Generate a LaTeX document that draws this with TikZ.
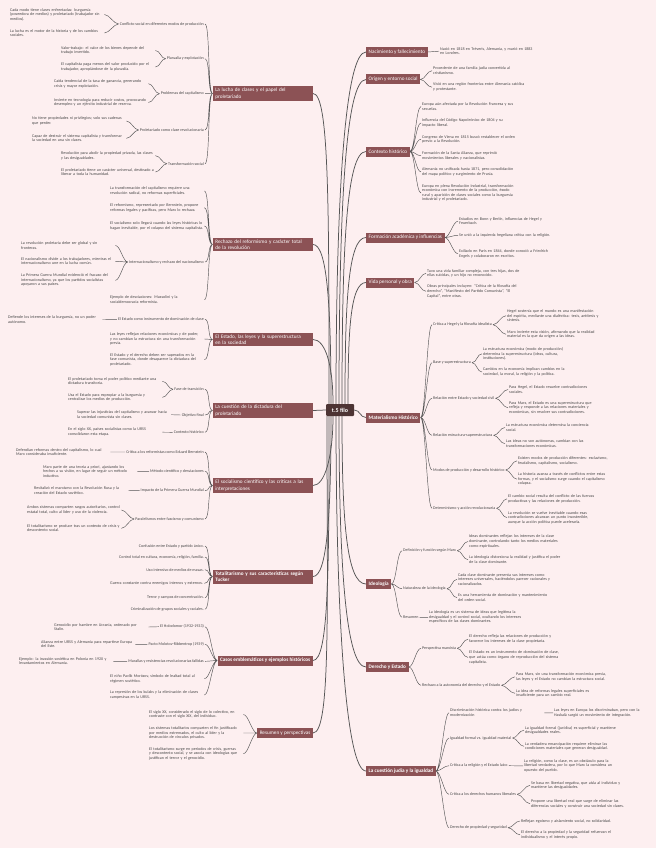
\documentclass[tikz,border=0pt]{standalone}
\usepackage{fontspec}
\setmainfont{Carlito}
\usepackage{tikz}

\definecolor{bgpink}{RGB}{253,239,240}
\definecolor{branchred}{RGB}{140,82,85}
\definecolor{rootbrown}{RGB}{77,52,52}
\definecolor{linegray}{RGB}{85,85,85}
\definecolor{textgray}{RGB}{70,70,70}

\hyphenpenalty=10000
\exhyphenpenalty=10000

\tikzset{
 mainbox/.style={fill=branchred, text=white, font=\fontsize{5.2}{6.3}\selectfont,
   inner xsep=2.5pt, inner ysep=2pt, minimum height=10pt, align=left},
 mainwide/.style={mainbox, text width=95pt},
 rootbox/.style={fill=rootbrown, text=white, font=\fontsize{6}{7}\selectfont\bfseries,
   minimum width=28pt, minimum height=12pt, rounded corners=1pt},
 item/.style={text=textgray, font=\fontsize{4.05}{4.6}\selectfont, inner sep=1pt},
 leaf/.style={item, text width=93pt, align=left},
 link/.style={draw=linegray, line width=0.45pt},
 trunk/.style={draw=linegray, line width=0.75pt},
 lhook/.style={to path={.. controls +(-5,0) and +(5,0) .. (\tikztotarget)}},
 rhook/.style={to path={.. controls +(5,0) and +(-5,0) .. (\tikztotarget)}},
}

\begin{document}
\begin{tikzpicture}[x=1pt,y=-1pt]
 \fill[bgpink] (0,0) rectangle (656,848);
 \useasboundingbox (0,0) rectangle (656,848);

 \node[rootbox] (root) at (340,410) {t.5 filo};

 % left branches
 \node[mainwide,anchor=east] (L1) at (313,93.5) {La lucha de clases y el papel del\\ proletariado};
 \node[mainwide,anchor=east] (L2) at (313,244.5) {Rechazo del reformismo y carácter total\\ de la revolución};
 \node[mainwide,anchor=east] (L3) at (313,339.5) {El Estado, las leyes y la superestructura\\ en la sociedad};
 \node[mainwide,anchor=east] (L4) at (313,410.5) {La cuestión de la dictadura del\\ proletariado};
 \node[mainwide,anchor=east] (L5) at (313,485.5) {El socialismo científico y las críticas a las\\ interpretaciones};
 \node[mainwide,anchor=east,font=\fontsize{5.2}{6.3}\selectfont\bfseries] (L6) at (313,576.5) {Totalitarismo y sus características según\\ Tucker};
 \node[mainbox,anchor=east,font=\fontsize{5.2}{6.3}\selectfont\bfseries] (L7) at (313,660.5) {Casos emblemáticos y ejemplos históricos};
 \node[mainbox,anchor=east] (L8) at (313,733) {Resumen y perspectivas};

 % right branches
 \node[mainbox,anchor=west] (R1) at (366,52) {Nacimiento y fallecimiento};
 \node[mainbox,anchor=west] (R2) at (366,79.5) {Origen y entorno social};
 \node[mainbox,anchor=west] (R3) at (366,151.5) {Contexto histórico};
 \node[mainbox,anchor=west] (R4) at (366,237.5) {Formación académica y influencias};
 \node[mainbox,anchor=west] (R5) at (366,282.5) {Vida personal y obra};
 \node[mainbox,anchor=west,font=\fontsize{5.2}{6.3}\selectfont\bfseries] (R6) at (366,417.5) {Materialismo Histórico};
 \node[mainbox,anchor=west,font=\fontsize{5.2}{6.3}\selectfont\bfseries] (R7) at (366,584) {Ideología};
 \node[mainbox,anchor=west,font=\fontsize{5.2}{6.3}\selectfont\bfseries] (R8) at (366,667) {Derecho y Estado};
 \node[mainbox,anchor=west,font=\fontsize{5.2}{6.3}\selectfont\bfseries] (R9) at (366,771) {La cuestión judía y la igualdad};

 % trunk
 \draw[trunk] (L1.east) .. controls +(16,0) and +(0,-200) .. ([xshift=-11pt]root.north);
 \draw[trunk] (L2.east) .. controls +(14,0) and +(0,-100) .. ([xshift=-9pt]root.north);
 \draw[trunk] (L3.east) .. controls +(12,0) and +(0,-40) .. ([xshift=-7pt]root.north);
 \draw[trunk] (L4.east) -- (root.west);
 \draw[trunk] (L5.east) .. controls +(12,0) and +(0,40) .. ([xshift=-7pt]root.south);
 \draw[trunk] (L6.east) .. controls +(14,0) and +(0,100) .. ([xshift=-9pt]root.south);
 \draw[trunk] (L7.east) .. controls +(16,0) and +(0,150) .. ([xshift=-11pt]root.south);
 \draw[trunk] (L8.east) .. controls +(18,0) and +(0,190) .. ([xshift=-13pt]root.south);
 \draw[trunk] ([xshift=-4pt]root.north) .. controls +(0,-220) and +(-20,0) .. (R1.west);
 \draw[trunk] ([xshift=-1pt]root.north) .. controls +(0,-200) and +(-20,0) .. (R2.west);
 \draw[trunk] ([xshift=2pt]root.north) .. controls +(0,-150) and +(-20,0) .. (R3.west);
 \draw[trunk] ([xshift=5pt]root.north) .. controls +(0,-100) and +(-18,0) .. (R4.west);
 \draw[trunk] ([xshift=8pt]root.north) .. controls +(0,-70) and +(-16,0) .. (R5.west);
 \draw[trunk] (root.east) .. controls +(6,0) and +(-6,0) .. (R6.west);
 \draw[trunk] ([xshift=2pt]root.south) .. controls +(0,100) and +(-20,0) .. (R7.west);
 \draw[trunk] ([xshift=-1pt]root.south) .. controls +(0,150) and +(-20,0) .. (R8.west);
 \draw[trunk] ([xshift=-4pt]root.south) .. controls +(0,200) and +(-20,0) .. (R9.west);

 % L1
 \node[item,anchor=east] (L1a) at (205,24) {Conflicto social en diferentes modos de producción};
 \node[leaf,anchor=west] (L1a1) at (9,14.5) {Cada modo tiene clases enfrentadas: burguesía (poseedora de medios) y proletariado (trabajador sin medios).};
 \node[leaf,anchor=west] (L1a2) at (9,33) {La lucha es el motor de la historia y de los cambios sociales.};
 \node[item,anchor=east] (L1b) at (205,58.7) {Plusvalía y explotación};
 \node[leaf,anchor=west] (L1b1) at (60,50.5) {Valor-trabajo: el valor de los bienes depende del trabajo invertido.};
 \node[leaf,anchor=west] (L1b2) at (60,67) {El capitalista paga menos del valor producido por el trabajador, apropiándose de la plusvalía.};
 \node[item,anchor=east] (L1c) at (205,93.7) {Problemas del capitalismo};
 \node[leaf,anchor=west] (L1c1) at (53,83.7) {Caída tendencial de la tasa de ganancia, generando crisis y mayor explotación.};
 \node[leaf,anchor=west] (L1c2) at (53,102.5) {Invierte en tecnología para reducir costos, provocando desempleo y un ejército industrial de reserva.};
 \node[item,anchor=east] (L1d) at (205,130) {Proletariado como clase revolucionaria};
 \node[leaf,anchor=west] (L1d1) at (31,121) {No tiene propiedades ni privilegios; solo sus cadenas que perder.};
 \node[leaf,anchor=west] (L1d2) at (31,138.3) {Capaz de destruir el sistema capitalista y transformar la sociedad en una sin clases.};
 \node[item,anchor=east] (L1e) at (205,163.7) {Transformación social};
 \node[leaf,anchor=west] (L1e1) at (60,155.7) {Revolución para abolir la propiedad privada, las clases y las desigualdades.};
 \node[leaf,anchor=west] (L1e2) at (60,172) {El proletariado tiene un carácter universal, destinado a liberar a toda la humanidad.};
 \draw[link] (L1.west) to[lhook] (L1a.east) (L1.west) to[lhook] (L1b.east) (L1.west) to[lhook] (L1c.east)
  (L1.west) to[lhook] (L1d.east) (L1.west) to[lhook] (L1e.east);
 \draw[link] (L1a.west) to[lhook] (L1a1.east) (L1a.west) to[lhook] (L1a2.east)
  (L1b.west) to[lhook] (L1b1.east) (L1b.west) to[lhook] (L1b2.east)
  (L1c.west) to[lhook] (L1c1.east) (L1c.west) to[lhook] (L1c2.east)
  (L1d.west) to[lhook] (L1d1.east) (L1d.west) to[lhook] (L1d2.east)
  (L1e.west) to[lhook] (L1e1.east) (L1e.west) to[lhook] (L1e2.east);

 % L2
 \node[leaf,anchor=west] (L2a) at (109,191) {La transformación del capitalismo requiere una revolución radical, no reformas superficiales.};
 \node[leaf,anchor=west] (L2b) at (109,207.7) {El reformismo, representado por Bernstein, propone reformas legales y pacíficas, pero Marx lo rechaza.};
 \node[leaf,anchor=west] (L2c) at (109,226) {El socialismo solo llegará cuando las leyes históricas lo hagan inevitable, por el colapso del sistema capitalista.};
 \node[item,anchor=east] (L2d) at (205,262) {Internacionalismo y rechazo del nacionalismo};
 \node[leaf,anchor=west] (L2d1) at (20,245.5) {La revolución proletaria debe ser global y sin fronteras.};
 \node[leaf,anchor=west] (L2d2) at (20,261.3) {El nacionalismo divide a los trabajadores, mientras el internacionalismo une en la lucha común.};
 \node[leaf,anchor=west] (L2d3) at (20,280.3) {La Primera Guerra Mundial evidenció el fracaso del internacionalismo, ya que los partidos socialistas apoyaron a sus países.};
 \node[leaf,anchor=west] (L2e) at (109,299.7) {Ejemplo de desviaciones: Mussolini y la socialdemocracia reformista.};
 \draw[link] (L2.west) to[lhook] (L2a.east) (L2.west) to[lhook] (L2b.east) (L2.west) to[lhook] (L2c.east)
  (L2.west) to[lhook] (L2d.east) (L2.west) to[lhook] (L2e.east);
 \draw[link] (L2d.west) to[lhook] (L2d1.east) (L2d.west) to[lhook] (L2d2.east) (L2d.west) to[lhook] (L2d3.east);

 % L3
 \node[item,anchor=east] (L3a) at (205,319.3) {El Estado como instrumento de dominación de clase};
 \node[leaf,anchor=west] (L3a1) at (7,319.5) {Defiende los intereses de la burguesía, no un poder autónomo.};
 \node[leaf,anchor=west] (L3b) at (109,339) {Las leyes reflejan relaciones económicas y de poder, y no cambian la estructura sin una transformación previa.};
 \node[leaf,anchor=west] (L3c) at (109,359.7) {El Estado y el derecho deben ser superados en la fase comunista, donde desaparece la dictadura del proletariado.};
 \draw[link] (L3.west) to[lhook] (L3a.east) (L3.west) to[lhook] (L3b.east) (L3.west) to[lhook] (L3c.east);
 \draw[link] (L3a.west) to[lhook] (L3a1.east);

 % L4
 \node[item,anchor=east] (L4a) at (205,389.3) {Fase de transición};
 \node[leaf,anchor=west] (L4a1) at (67,381.3) {El proletariado toma el poder político mediante una dictadura transitoria.};
 \node[leaf,anchor=west] (L4a2) at (67,397.3) {Usa el Estado para expropiar a la burguesía y centralizar los medios de producción.};
 \node[item,anchor=east] (L4b) at (205,415) {Objetivo final};
 \node[leaf,anchor=west] (L4b1) at (76,414.7) {Superar las injusticias del capitalismo y avanzar hacia la sociedad comunista sin clases.};
 \node[item,anchor=east] (L4c) at (205,432.3) {Contexto histórico};
 \node[leaf,anchor=west] (L4c1) at (67,432.2) {En el siglo XX, países socialistas como la URSS consolidaron esta etapa.};
 \draw[link] (L4.west) to[lhook] (L4a.east) (L4.west) to[lhook] (L4b.east) (L4.west) to[lhook] (L4c.east);
 \draw[link] (L4a.west) to[lhook] (L4a1.east) (L4a.west) to[lhook] (L4a2.east)
  (L4b.west) to[lhook] (L4b1.east) (L4c.west) to[lhook] (L4c1.east);

 % L5
 \node[item,anchor=east] (L5a) at (205,452) {Crítica a los reformistas como Eduard Bernstein};
 \node[leaf,anchor=west] (L5a1) at (15,452) {Defendían reformas dentro del capitalismo, lo cual Marx consideraba insuficiente.};
 \node[item,anchor=east] (L5b) at (205,471.3) {Método científico y desviaciones};
 \node[leaf,anchor=west] (L5b1) at (42,471.3) {Marx parte de una teoría a priori, ajustando los hechos a su visión, en lugar de seguir un método inductivo.};
 \node[item,anchor=east] (L5c) at (205,490.7) {Impacto de la Primera Guerra Mundial};
 \node[leaf,anchor=west] (L5c1) at (33,490.5) {Revitalizó el marxismo con la Revolución Rusa y la creación del Estado soviético.};
 \node[item,anchor=east] (L5d) at (205,519) {Paralelismos entre fascismo y comunismo};
 \node[leaf,anchor=west] (L5d1) at (26,510) {Ambos sistemas comparten rasgos autoritarios, control estatal total, culto al líder y uso de la violencia.};
 \node[leaf,anchor=west] (L5d2) at (26,528.3) {El totalitarismo se produce tras un contexto de crisis y descontento social.};
 \draw[link] (L5.west) to[lhook] (L5a.east) (L5.west) to[lhook] (L5b.east) (L5.west) to[lhook] (L5c.east)
  (L5.west) to[lhook] (L5d.east);
 \draw[link] (L5a.west) to[lhook] (L5a1.east) (L5b.west) to[lhook] (L5b1.east) (L5c.west) to[lhook] (L5c1.east)
  (L5d.west) to[lhook] (L5d1.east) (L5d.west) to[lhook] (L5d2.east);

 % L6
 \node[item,anchor=east] (L6a) at (205,546) {Confusión entre Estado y partido único.};
 \node[item,anchor=east] (L6b) at (205,557) {Control total en cultura, economía, religión, familia.};
 \node[item,anchor=east] (L6c) at (205,569.7) {Uso intensivo de medios de masas.};
 \node[leaf,anchor=west] (L6d) at (109,583.3) {Guerra constante contra enemigos internos y externos.};
 \node[item,anchor=east] (L6e) at (205,597.7) {Terror y campos de concentración.};
 \node[item,anchor=east] (L6f) at (205,609.3) {Criminalización de grupos sociales y raciales.};
 \draw[link] (L6.west) to[lhook] (L6a.east) (L6.west) to[lhook] (L6b.east) (L6.west) to[lhook] (L6c.east)
  (L6.west) to[lhook] (L6d.east) (L6.west) to[lhook] (L6e.east) (L6.west) to[lhook] (L6f.east);

 % L7
 \node[item,anchor=east] (L7a) at (205,626.7) {El Holodomor (1932-1933)};
 \node[leaf,anchor=west] (L7a1) at (53,627) {Genocidio por hambre en Ucrania, ordenado por Stalin.};
 \node[item,anchor=east] (L7b) at (205,644.3) {Pacto Molotov-Ribbentrop (1939)};
 \node[leaf,anchor=west] (L7b1) at (40,644.3) {Alianza entre URSS y Alemania para repartirse Europa del Este.};
 \node[item,anchor=east] (L7c) at (205,661.3) {Murallas y resistencias revolucionarias fallidas};
 \node[leaf,anchor=west] (L7c1) at (18,661.3) {Ejemplo: la invasión soviética en Polonia en 1920 y levantamientos en Alemania.};
 \node[leaf,anchor=west] (L7d) at (109,678.7) {El niño Pavlik Morózov, símbolo de lealtad total al régimen soviético.};
 \node[leaf,anchor=west] (L7e) at (109,695) {La represión de los kulaks y la eliminación de clases campesinas en la URSS.};
 \draw[link] (L7.west) to[lhook] (L7a.east) (L7.west) to[lhook] (L7b.east) (L7.west) to[lhook] (L7c.east)
  (L7.west) to[lhook] (L7d.east) (L7.west) to[lhook] (L7e.east);
 \draw[link] (L7a.west) to[lhook] (L7a1.east) (L7b.west) to[lhook] (L7b1.east) (L7c.west) to[lhook] (L7c1.east);

 % L8
 \node[leaf,anchor=west] (L8a) at (148,714.5) {El siglo XX, considerado el siglo de lo colectivo, en contraste con el siglo XIX, del individuo.};
 \node[leaf,anchor=west] (L8b) at (148,733) {Los sistemas totalitarios comparten el fin justificado por medios extremados, el culto al líder y la destrucción de vínculos privados.};
 \node[leaf,anchor=west] (L8c) at (148,753.7) {El totalitarismo surge en periodos de crisis, guerras y descontento social, y se asocia con ideologías que justifican el terror y el genocidio.};
 \draw[link] (L8.west) to[lhook] (L8a.east) (L8.west) to[lhook] (L8b.east) (L8.west) to[lhook] (L8c.east);

 % R1 - R5
 \node[leaf,anchor=west] (R1a) at (439,51.2) {Nació en 1818 en Tréveris, Alemania, y murió en 1883 en Londres.};
 \node[leaf,anchor=west] (R2a) at (432,70.7) {Procedente de una familia judía convertida al cristianismo.};
 \node[leaf,anchor=west] (R2b) at (432,87.2) {Vivió en una región fronteriza entre Alemania católica y protestante.};
 \node[leaf,anchor=west] (R3a) at (421,106.5) {Europa aún afectada por la Revolución Francesa y sus secuelas.};
 \node[leaf,anchor=west] (R3b) at (421,123) {Influencia del Código Napoleónico de 1804 y su impacto liberal.};
 \node[leaf,anchor=west] (R3c) at (421,139.3) {Congreso de Viena en 1815 buscó restablecer el orden previo a la Revolución.};
 \node[leaf,anchor=west] (R3d) at (421,155.7) {Formación de la Santa Alianza, que reprimió movimientos liberales y nacionalistas.};
 \node[leaf,anchor=west] (R3e) at (421,171.8) {Alemania no unificada hasta 1871, pero consolidación del mapa político y surgimiento de Prusia.};
 \node[leaf,anchor=west] (R3f) at (421,193) {Europa en plena Revolución Industrial, transformación económica con incremento de la producción, éxodo rural y aparición de clases sociales como la burguesía industrial y el proletariado.};
 \node[leaf,anchor=west] (R4a) at (458,221.2) {Estudios en Bonn y Berlín, influencias de Hegel y Feuerbach.};
 \node[leaf,anchor=west] (R4b) at (458,235.3) {Se unió a la izquierda hegeliana crítica con la religión.};
 \node[leaf,anchor=west] (R4c) at (458,253.7) {Exiliado en París en 1844, donde conoció a Friedrich Engels y colaboraron en escritos.};
 \node[leaf,anchor=west] (R5a) at (426,273.3) {Tuvo una vida familiar compleja, con tres hijas, dos de ellas suicidas, y un hijo no reconocido.};
 \node[leaf,anchor=west] (R5b) at (426,291.3) {Obras principales incluyen: "Crítica de la filosofía del derecho", "Manifiesto del Partido Comunista", "El Capital", entre otras.};
 \draw[link] (R1.east) to[rhook] (R1a.west)
  (R2.east) to[rhook] (R2a.west) (R2.east) to[rhook] (R2b.west)
  (R3.east) to[rhook] (R3a.west) (R3.east) to[rhook] (R3b.west) (R3.east) to[rhook] (R3c.west)
  (R3.east) to[rhook] (R3d.west) (R3.east) to[rhook] (R3e.west) (R3.east) to[rhook] (R3f.west)
  (R4.east) to[rhook] (R4a.west) (R4.east) to[rhook] (R4b.west) (R4.east) to[rhook] (R4c.west)
  (R5.east) to[rhook] (R5a.west) (R5.east) to[rhook] (R5b.west);

 % R6
 \node[item,anchor=west] (R6a) at (432,324.7) {Crítica a Hegel y la filosofía idealista};
 \node[leaf,anchor=west] (R6a1) at (506,315.7) {Hegel sostenía que el mundo es una manifestación del espíritu, mediante una dialéctica: tesis, antítesis y síntesis.};
 \node[leaf,anchor=west] (R6a2) at (506,334.3) {Marx invierte esta visión, afirmando que la realidad material es la que da origen a las ideas.};
 \node[item,anchor=west] (R6b) at (432,362.7) {Base y superestructura};
 \node[leaf,anchor=west] (R6b1) at (482,353.8) {La estructura económica (modo de producción) determina la superestructura (ideas, cultura, instituciones).};
 \node[leaf,anchor=west] (R6b2) at (482,372) {Cambios en la economía implican cambios en la sociedad, la moral, la religión y la política.};
 \node[item,anchor=west] (R6c) at (432,398.3) {Relación entre Estado y sociedad civil};
 \node[leaf,anchor=west] (R6c1) at (508,389.5) {Para Hegel, el Estado resuelve contradicciones sociales.};
 \node[leaf,anchor=west] (R6c2) at (508,407.8) {Para Marx, el Estado es una superestructura que refleja y responde a las relaciones materiales y económicas, sin resolver sus contradicciones.};
 \node[item,anchor=west] (R6d) at (432,435.3) {Relación estructura-superestructura};
 \node[leaf,anchor=west] (R6d1) at (505,427.5) {La estructura económica determina la conciencia social.};
 \node[leaf,anchor=west] (R6d2) at (505,443.7) {Las ideas no son autónomas, cambian con las transformaciones económicas.};
 \node[item,anchor=west] (R6e) at (432,470) {Modos de producción y desarrollo histórico};
 \node[leaf,anchor=west] (R6e1) at (517,460.8) {Existen modos de producción diferentes: esclavismo, feudalismo, capitalismo, socialismo.};
 \node[leaf,anchor=west] (R6e2) at (517,479.2) {La historia avanza a través de conflictos entre estas formas, y el socialismo surge cuando el capitalismo colapsa.};
 \node[item,anchor=west] (R6f) at (432,508.3) {Determinismo y acción revolucionaria};
 \node[leaf,anchor=west] (R6f1) at (507,498.8) {El cambio social resulta del conflicto de las fuerzas productivas y las relaciones de producción.};
 \node[leaf,anchor=west] (R6f2) at (507,517.6) {La revolución se vuelve inevitable cuando esas contradicciones alcanzan un punto insostenible, aunque la acción política puede acelerarla.};
 \draw[link] (R6.east) to[rhook] (R6a.west) (R6.east) to[rhook] (R6b.west) (R6.east) to[rhook] (R6c.west)
  (R6.east) to[rhook] (R6d.west) (R6.east) to[rhook] (R6e.west) (R6.east) to[rhook] (R6f.west);
 \draw[link] (R6a.east) to[rhook] (R6a1.west) (R6a.east) to[rhook] (R6a2.west)
  (R6b.east) to[rhook] (R6b1.west) (R6b.east) to[rhook] (R6b2.west)
  (R6c.east) to[rhook] (R6c1.west) (R6c.east) to[rhook] (R6c2.west)
  (R6d.east) to[rhook] (R6d1.west) (R6d.east) to[rhook] (R6d2.west)
  (R6e.east) to[rhook] (R6e1.west) (R6e.east) to[rhook] (R6e2.west)
  (R6f.east) to[rhook] (R6f1.west) (R6f.east) to[rhook] (R6f2.west);

 % R7
 \node[item,anchor=west] (R7a) at (402,550.7) {Definición y función según Marx};
 \node[leaf,anchor=west] (R7a1) at (468,541.5) {Ideas dominantes reflejan los intereses de la clase dominante, controlando tanto los medios materiales como espirituales.};
 \node[leaf,anchor=west] (R7a2) at (468,559.7) {La ideología distorsiona la realidad y justifica el poder de la clase dominante.};
 \node[item,anchor=west] (R7b) at (402,588.7) {Naturaleza de la ideología};
 \node[leaf,anchor=west] (R7b1) at (457,579.3) {Cada clase dominante presenta sus intereses como intereses universales, haciéndolos parecer racionales y racionalizados.};
 \node[leaf,anchor=west] (R7b2) at (457,597.7) {Es una herramienta de dominación y mantenimiento del orden social.};
 \node[item,anchor=west] (R7c) at (402,617.3) {Resumen};
 \node[leaf,anchor=west] (R7c1) at (428,617.3) {La ideología es un sistema de ideas que legitima la desigualdad y el control social, ocultando los intereses específicos de las clases dominantes.};
 \draw[link] (R7.east) to[rhook] (R7a.west) (R7.east) to[rhook] (R7b.west) (R7.east) to[rhook] (R7c.west);
 \draw[link] (R7a.east) to[rhook] (R7a1.west) (R7a.east) to[rhook] (R7a2.west)
  (R7b.east) to[rhook] (R7b1.west) (R7b.east) to[rhook] (R7b2.west) (R7c.east) to[rhook] (R7c1.west);

 % R8
 \node[item,anchor=west] (R8a) at (421,648.3) {Perspectiva marxista};
 \node[leaf,anchor=west] (R8a1) at (468,639.2) {El derecho refleja las relaciones de producción y favorece los intereses de la clase propietaria.};
 \node[leaf,anchor=west] (R8a2) at (468,657.4) {El Estado es un instrumento de dominación de clase, que actúa como órgano de reproducción del sistema capitalista.};
 \node[item,anchor=west] (R8b) at (421,685.3) {Rechazo a la autonomía del derecho y el Estado};
 \node[leaf,anchor=west] (R8b1) at (515,676.8) {Para Marx, sin una transformación económica previa, las leyes y el Estado no cambian la estructura social.};
 \node[leaf,anchor=west] (R8b2) at (515,693.3) {La idea de reformas legales superficiales es insuficiente para un cambio real.};
 \draw[link] (R8.east) to[rhook] (R8a.west) (R8.east) to[rhook] (R8b.west);
 \draw[link] (R8a.east) to[rhook] (R8a1.west) (R8a.east) to[rhook] (R8a2.west)
  (R8b.east) to[rhook] (R8b1.west) (R8b.east) to[rhook] (R8b2.west);

 % R9
 \node[leaf,anchor=west] (R9a) at (449,712.8) {Discriminación histórica contra los judíos y modernización};
 \node[leaf,anchor=west] (R9a1) at (553,712.8) {Las leyes en Europa los discriminaban, pero con la Haskalá surgió un movimiento de integración.};
 \node[item,anchor=west] (R9b) at (449,738) {Igualdad formal vs. igualdad material};
 \node[leaf,anchor=west] (R9b1) at (524,730.2) {La igualdad formal (jurídica) es superficial y mantiene desigualdades reales.};
 \node[leaf,anchor=west] (R9b2) at (524,746.3) {La verdadera emancipación requiere eliminar las condiciones materiales que generan desigualdad.};
 \node[item,anchor=west] (R9c) at (449,765.7) {Crítica a la religión y el Estado laico};
 \node[leaf,anchor=west] (R9c1) at (523,765.9) {La religión, como la clase, es un obstáculo para la libertad verdadera, por lo que Marx la considera un opuesto del pueblo.};
 \node[item,anchor=west] (R9d) at (449,794.3) {Crítica a los derechos humanos liberales};
 \node[leaf,anchor=west] (R9d1) at (530,785.3) {Se basa en libertad negativa, que aísla al individuo y mantiene las desigualdades.};
 \node[leaf,anchor=west] (R9d2) at (530,803.7) {Propone una libertad real que surge de eliminar las diferencias sociales y construir una sociedad sin clases.};
 \node[item,anchor=west] (R9e) at (449,827.7) {Derecho de propiedad y seguridad};
 \node[leaf,anchor=west] (R9e1) at (520,821) {Reflejan egoísmo y aislamiento social, no solidaridad.};
 \node[leaf,anchor=west] (R9e2) at (520,834.8) {El derecho a la propiedad y la seguridad refuerzan el individualismo y el interés propio.};
 \draw[link] (R9.east) to[rhook] (R9a.west) (R9.east) to[rhook] (R9b.west) (R9.east) to[rhook] (R9c.west)
  (R9.east) to[rhook] (R9d.west) (R9.east) to[rhook] (R9e.west);
 \draw[link] (R9a.east) to[rhook] (R9a1.west) (R9b.east) to[rhook] (R9b1.west) (R9b.east) to[rhook] (R9b2.west)
  (R9c.east) to[rhook] (R9c1.west) (R9d.east) to[rhook] (R9d1.west) (R9d.east) to[rhook] (R9d2.west)
  (R9e.east) to[rhook] (R9e1.west) (R9e.east) to[rhook] (R9e2.west);
\end{tikzpicture}
\end{document}
